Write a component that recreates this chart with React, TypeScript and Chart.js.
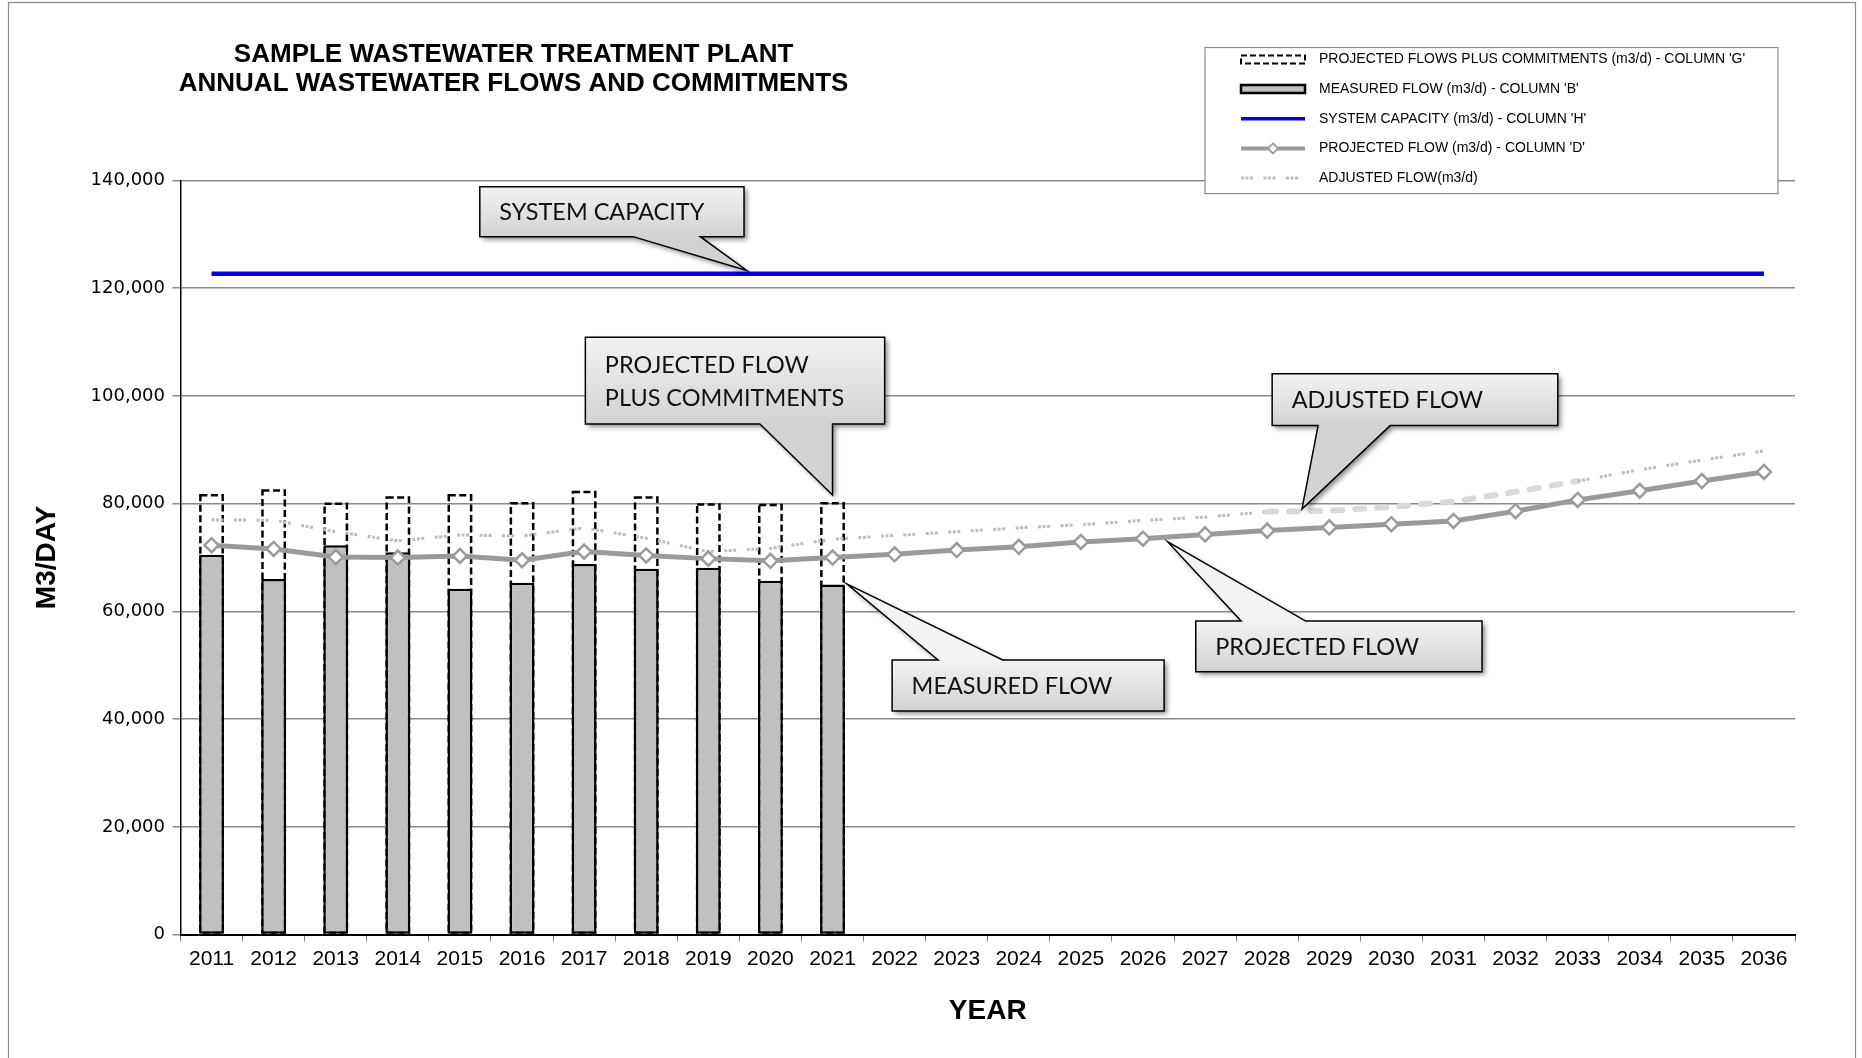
import React, { useEffect, useRef } from 'react';
import { Chart, registerables } from 'chart.js';

Chart.register(...registerables);

// ---------------- DATA ----------------
const YEARS = ['2011', '2012', '2013', '2014', '2015', '2016', '2017', '2018', '2019', '2020', '2021', '2022', '2023',
  '2024', '2025', '2026', '2027', '2028', '2029', '2030', '2031', '2032', '2033', '2034', '2035', '2036'];

const MEASURED_FLOW = [70500, 66000, 72300, 71000, 64200, 65300, 68800, 67900, 68100, 65700, 65000,
  null, null, null, null, null, null, null, null, null, null, null, null, null, null, null];

const PROJECTED_PLUS_COMMITMENTS = [81800, 82700, 80200, 81400, 81800, 80300, 82400, 81400, 80100, 80000, 80300,
  null, null, null, null, null, null, null, null, null, null, null, null, null, null, null];

const SYSTEM_CAPACITY = [122700, 122700, 122700, 122700, 122700, 122700, 122700, 122700, 122700, 122700, 122700,
  122700, 122700, 122700, 122700, 122700, 122700, 122700, 122700, 122700, 122700, 122700, 122700, 122700, 122700, 122700];

const PROJECTED_FLOW = [72300, 71600, 70100, 70000, 70300, 69500, 71100, 70400, 69800, 69400, 70000, 70600, 71400,
  72000, 72900, 73500, 74300, 75000, 75600, 76200, 76800, 78600, 80700, 82400, 84200, 85900];

const ADJUSTED_FLOW = [77000, 76900, 74800, 73100, 74200, 74000, 75500, 73600, 71100, 71700, 73400, 74100, 74800,
  75500, 76100, 76900, 77500, 78500, 78700, 79400, 80400, 82200, 84200, 86300, 88100, 89800];

const ADJUSTED_DASHED_FROM = '2028';
const ADJUSTED_DASHED_TO = '2033';

const Y_TICKS_MIN = 0;
const Y_TICKS_MAX = 140000;
const Y_TICKS_STEP = 20000;

const TITLE_LINES = ['SAMPLE WASTEWATER TREATMENT PLANT', 'ANNUAL WASTEWATER FLOWS AND COMMITMENTS'];
const Y_TITLE = 'M3/DAY';
const X_TITLE = 'YEAR';

const LABEL_PPC = "PROJECTED FLOWS PLUS COMMITMENTS (m3/d) - COLUMN 'G'";
const LABEL_MEASURED = "MEASURED FLOW (m3/d) - COLUMN 'B'";
const LABEL_CAPACITY = "SYSTEM CAPACITY (m3/d) - COLUMN 'H'";
const LABEL_PROJECTED = "PROJECTED FLOW (m3/d) - COLUMN 'D'";
const LABEL_ADJUSTED = 'ADJUSTED FLOW(m3/d)';

// Callouts, anchored in data space: x as category index, y as value
type Callout = { lines: string[]; box: [number, number, number, number]; base: [number, number]; tip: [number, number]; side: 'top' | 'bottom' };
const CALLOUTS: Callout[] = [
  { lines: ['SYSTEM CAPACITY'], box: [4.32, 138840, 8.575, 129580], base: [6.79, 7.87], tip: [8.62, 123300], side: 'bottom' },
  { lines: ['PROJECTED FLOW', 'PLUS COMMITMENTS'], box: [6.02, 110900, 10.84, 94800], base: [8.83, 10.0], tip: [10.0, 81600], side: 'bottom' },
  { lines: ['ADJUSTED FLOW'], box: [17.08, 104100, 21.68, 94500], base: [17.82, 18.98], tip: [17.56, 79000], side: 'bottom' },
  { lines: ['MEASURED FLOW'], box: [10.96, 51000, 15.34, 41500], base: [11.7, 12.74], tip: [10.23, 65100], side: 'top' },
  { lines: ['PROJECTED FLOW'], box: [15.85, 58200, 20.46, 48800], base: [16.58, 17.62], tip: [15.4, 72900], side: 'top' },
];

// ---------------- STYLE ----------------
const W = 1862;
const H = 1058;
const AREA = { left: 180.5, right: 1795, top: 180.5, bottom: 934.6 };

const COL_BAR = '#c0c0c0';
const COL_PROJ = '#9a9a9a';
const COL_CAP = '#0000ff';
const COL_ADJ = '#bdbdbd';
const COL_ADJ_DASH = '#d9d9d9';
const ADJ_PATTERN = [3, 1.5, 3, 1.5, 3, 10.5];
const PPC_DASH = [7, 3.5];

function fontAvailable(name: string): boolean {
  const c = document.createElement('canvas').getContext('2d');
  if (!c) return false;
  const s = 'abcdefghijklmnopqrstuvwxyzABCDEFGHIJKLM0123456789';
  c.font = '40px monospace';
  const a = c.measureText(s).width;
  c.font = `40px "${name}", monospace`;
  const b = c.measureText(s).width;
  c.font = '40px serif';
  const a2 = c.measureText(s).width;
  c.font = `40px "${name}", serif`;
  const b2 = c.measureText(s).width;
  return a !== b || a2 !== b2;
}

export default function App() {
  const ref = useRef<HTMLCanvasElement>(null);

  useEffect(() => {
    const canvas = ref.current;
    if (!canvas) return;

    const narrow = fontAvailable('Liberation Sans Narrow');
    const titleFont = narrow
      ? { family: '"Liberation Sans Narrow", "Liberation Sans", Arial', size: 33, weight: 'bold' as const }
      : { family: '"Liberation Sans", Arial', size: 28, weight: 'bold' as const };
    const calloutFamily = fontAvailable('Lato') ? 'Lato' : '"Open Sans"';

    const dashFrom = YEARS.indexOf(ADJUSTED_DASHED_FROM);
    const dashTo = YEARS.indexOf(ADJUSTED_DASHED_TO);
    const inDash = (c: any) => c.p0DataIndex >= dashFrom && c.p1DataIndex <= dashTo;

    const bgPlugin = {
      id: 'bgFrame',
      beforeDraw(chart: any) {
        const ctx = chart.ctx;
        ctx.save();
        ctx.fillStyle = '#ffffff';
        ctx.fillRect(0, 0, W, H);
        ctx.strokeStyle = '#8c8c8c';
        ctx.lineWidth = 1.2;
        ctx.strokeRect(8.5, 2.5, 1847, H + 10);
        ctx.restore();
      },
    };

    const dashedBarsPlugin = {
      id: 'dashedBars',
      afterDatasetDraw(chart: any, args: any) {
        const ds = chart.data.datasets[args.index];
        if (ds.label !== LABEL_PPC) return;
        const ctx = chart.ctx;
        ctx.save();
        ctx.setLineDash(PPC_DASH);
        ctx.lineWidth = 2.5;
        ctx.strokeStyle = '#000';
        args.meta.data.forEach((el: any, i: number) => {
          if (ds.data[i] == null) return;
          const p = el.getProps(['x', 'y', 'base', 'width'], true);
          if (!isFinite(p.y)) return;
          ctx.strokeRect(p.x - p.width / 2 + 1.25, p.y + 1.25, p.width - 2.5, p.base - p.y - 2.5);
        });
        ctx.restore();
      },
    };

    const overlayPlugin = {
      id: 'overlay',
      afterDraw(chart: any) {
        const ctx: CanvasRenderingContext2D = chart.ctx;
        const xs = chart.scales.x;
        const ys = chart.scales.y;
        const X = (v: number) => xs.getPixelForValue(v);
        const Y = (v: number) => ys.getPixelForValue(v);

        // Title
        ctx.save();
        ctx.fillStyle = '#000';
        ctx.font = 'bold 26px "Liberation Sans", Arial';
        ctx.textAlign = 'center';
        ctx.textBaseline = 'middle';
        ctx.fillText(TITLE_LINES[0], 513.6, 55);
        ctx.fillText(TITLE_LINES[1], 513.6, 84);
        ctx.restore();

        // Callouts
        ctx.save();
        ctx.font = `23px ${calloutFamily}`;
        const sx = 205 / ctx.measureText('SYSTEM CAPACITY').width;
        ctx.restore();
        CALLOUTS.forEach((c) => {
          const x0 = X(c.box[0]);
          const y0 = Y(c.box[1]);
          const x1 = X(c.box[2]);
          const y1 = Y(c.box[3]);
          const bx0 = X(c.base[0]);
          const bx1 = X(c.base[1]);
          const tx = X(c.tip[0]);
          const ty = Y(c.tip[1]);
          ctx.save();
          ctx.beginPath();
          if (c.side === 'bottom') {
            ctx.moveTo(x0, y0);
            ctx.lineTo(x1, y0);
            ctx.lineTo(x1, y1);
            ctx.lineTo(bx1, y1);
            ctx.lineTo(tx, ty);
            ctx.lineTo(bx0, y1);
            ctx.lineTo(x0, y1);
          } else {
            ctx.moveTo(x0, y0);
            ctx.lineTo(bx0, y0);
            ctx.lineTo(tx, ty);
            ctx.lineTo(bx1, y0);
            ctx.lineTo(x1, y0);
            ctx.lineTo(x1, y1);
            ctx.lineTo(x0, y1);
          }
          ctx.closePath();
          const g = ctx.createLinearGradient(0, y0, 0, y1);
          g.addColorStop(0, '#f3f3f3');
          g.addColorStop(1, '#d2d2d2');
          ctx.fillStyle = g;
          ctx.shadowColor = 'rgba(0,0,0,0.45)';
          ctx.shadowBlur = 5;
          ctx.shadowOffsetX = 3;
          ctx.shadowOffsetY = 3;
          ctx.fill();
          ctx.shadowColor = 'rgba(0,0,0,0)';
          ctx.lineWidth = 1.5;
          ctx.strokeStyle = '#000';
          ctx.lineJoin = 'miter';
          ctx.stroke();
          ctx.fillStyle = '#111';
          ctx.font = `23px ${calloutFamily}`;
          ctx.textBaseline = 'middle';
          ctx.textAlign = 'left';
          const cy = (y0 + y1) / 2 + 1;
          const n = c.lines.length;
          c.lines.forEach((t, i) => {
            const ly = cy + (i - (n - 1) / 2) * 33;
            ctx.save();
            ctx.translate(x0 + 19.5, ly);
            ctx.scale(sx, 1);
            ctx.fillText(t, 0, 0);
            ctx.restore();
          });
          ctx.restore();
        });

        // Legend
        const L = { left: 1205, top: 47.5, right: 1778, bottom: 193.6 };
        ctx.save();
        ctx.fillStyle = '#fff';
        ctx.fillRect(L.left, L.top, L.right - L.left, L.bottom - L.top);
        ctx.strokeStyle = '#8c8c8c';
        ctx.lineWidth = 1.2;
        ctx.strokeRect(L.left, L.top, L.right - L.left, L.bottom - L.top);
        const rows = [59.4, 89, 118.75, 148.4, 178];
        const sx0 = 1241;
        const sx1 = 1305;
        // row 1 dashed box
        ctx.setLineDash([6, 3]);
        ctx.strokeStyle = '#000';
        ctx.lineWidth = 2;
        ctx.strokeRect(sx0, rows[0] - 4, sx1 - sx0, 8);
        ctx.setLineDash([]);
        // row 2 bar
        ctx.fillStyle = COL_BAR;
        ctx.fillRect(sx0, rows[1] - 4, sx1 - sx0, 8);
        ctx.lineWidth = 2.5;
        ctx.strokeRect(sx0, rows[1] - 4, sx1 - sx0, 8);
        // row 3 capacity
        ctx.strokeStyle = COL_CAP;
        ctx.lineWidth = 3.5;
        ctx.beginPath();
        ctx.moveTo(sx0, rows[2]);
        ctx.lineTo(sx1, rows[2]);
        ctx.stroke();
        // row 4 projected
        ctx.strokeStyle = COL_PROJ;
        ctx.lineWidth = 4;
        ctx.beginPath();
        ctx.moveTo(sx0, rows[3]);
        ctx.lineTo(sx1, rows[3]);
        ctx.stroke();
        const mx = (sx0 + sx1) / 2;
        ctx.beginPath();
        ctx.moveTo(mx, rows[3] - 5);
        ctx.lineTo(mx + 5, rows[3]);
        ctx.lineTo(mx, rows[3] + 5);
        ctx.lineTo(mx - 5, rows[3]);
        ctx.closePath();
        ctx.fillStyle = '#fff';
        ctx.fill();
        ctx.lineWidth = 1.8;
        ctx.stroke();
        // row 5 adjusted
        ctx.strokeStyle = COL_ADJ;
        ctx.lineWidth = 3;
        ctx.setLineDash(ADJ_PATTERN);
        ctx.beginPath();
        ctx.moveTo(sx0, rows[4]);
        ctx.lineTo(sx1, rows[4]);
        ctx.stroke();
        ctx.setLineDash([]);
        // texts
        ctx.fillStyle = '#000';
        ctx.font = '14px "Liberation Sans", Arial';
        ctx.textBaseline = 'middle';
        ctx.textAlign = 'left';
        [LABEL_PPC, LABEL_MEASURED, LABEL_CAPACITY, LABEL_PROJECTED, LABEL_ADJUSTED].forEach((t, i) => {
          ctx.fillText(t, 1319, rows[i]);
        });
        ctx.restore();
      },
    };

    const chart = new Chart(canvas, {
      type: 'bar',
      data: {
        labels: YEARS,
        datasets: [
          {
            type: 'bar',
            label: LABEL_PPC,
            data: PROJECTED_PLUS_COMMITMENTS,
            backgroundColor: 'rgba(0,0,0,0)',
            borderWidth: 0,
            grouped: false,
            barPercentage: 0.4,
            categoryPercentage: 1,
            order: 5,
          } as any,
          {
            type: 'bar',
            label: LABEL_MEASURED,
            data: MEASURED_FLOW,
            backgroundColor: COL_BAR,
            borderColor: '#000',
            borderWidth: 2.5,
            borderSkipped: false,
            grouped: false,
            barPercentage: 0.4,
            categoryPercentage: 1,
            order: 4,
          } as any,
          {
            type: 'line',
            label: LABEL_ADJUSTED,
            data: ADJUSTED_FLOW,
            borderColor: COL_ADJ,
            borderWidth: 3,
            borderDash: ADJ_PATTERN,
            pointRadius: 0,
            tension: 0,
            order: 3,
            segment: {
              borderColor: (c: any) => (inDash(c) ? COL_ADJ_DASH : undefined),
              borderWidth: (c: any) => (inDash(c) ? 6 : undefined),
              borderDash: (c: any) => (inDash(c) ? [9, 13] : undefined),
              borderCapStyle: (c: any) => (inDash(c) ? 'round' : undefined),
            },
          } as any,
          {
            type: 'line',
            label: LABEL_PROJECTED,
            data: PROJECTED_FLOW,
            borderColor: COL_PROJ,
            borderWidth: 5,
            pointStyle: 'rectRot',
            pointRadius: 7,
            pointBorderWidth: 2.5,
            pointBackgroundColor: '#ffffff',
            pointBorderColor: COL_PROJ,
            tension: 0,
            order: 2,
          } as any,
          {
            type: 'line',
            label: LABEL_CAPACITY,
            data: SYSTEM_CAPACITY,
            borderColor: COL_CAP,
            borderWidth: 4.5,
            pointRadius: 0,
            tension: 0,
            order: 1,
          } as any,
        ],
      },
      options: {
        responsive: false,
        animation: false,
        devicePixelRatio: 1,
        locale: 'en-US',
        layout: { padding: { left: 0, top: AREA.top, right: W - AREA.right, bottom: 0 } },
        plugins: {
          legend: { display: false },
          tooltip: { enabled: false },
          title: { display: false },
        },
        scales: {
          x: {
            offset: true,
            afterFit: (s: any) => { s.height = H - AREA.bottom; },
            grid: { display: true, drawOnChartArea: false, drawTicks: true, tickLength: 7, offset: true, color: '#808080', lineWidth: 1 },
            border: { display: true, color: '#000', width: 2 },
            ticks: { color: '#000', padding: 5, font: { family: '"Liberation Sans", Arial', size: 21 }, maxRotation: 0, autoSkip: false },
            title: { display: true, text: X_TITLE, color: '#000', font: titleFont, padding: { top: 0, bottom: 30 } },
          },
          y: {
            min: Y_TICKS_MIN,
            max: Y_TICKS_MAX,
            afterFit: (s: any) => { s.width = AREA.left; },
            ticks: { stepSize: Y_TICKS_STEP, color: '#000', padding: 7.5, font: { family: '"DejaVu Sans", sans-serif', size: 18 } },
            grid: { color: '#8a8a8a', lineWidth: 1.5, tickLength: 8 },
            border: { display: true, color: '#000', width: 1.5 },
            title: { display: true, text: Y_TITLE, color: '#000', font: titleFont, padding: { top: 30, bottom: 0 } },
          },
        },
      } as any,
      plugins: [bgPlugin, dashedBarsPlugin, overlayPlugin],
    });

    return () => chart.destroy();
  }, []);

  return (
    <div style={{ position: 'absolute', left: 0, top: 0, width: W, height: H }}>
      <canvas ref={ref} width={W} height={H} style={{ display: 'block', width: W, height: H }} />
    </div>
  );
}
